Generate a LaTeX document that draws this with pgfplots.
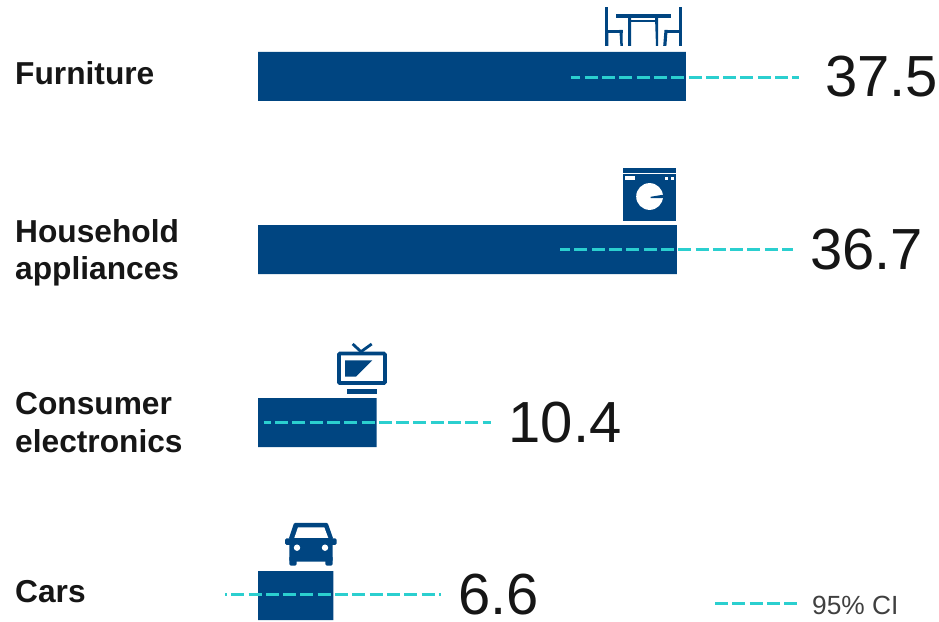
\documentclass[border=0pt]{standalone}
\usepackage{fontspec}
\setmainfont{Liberation Sans}
\usepackage{pgfplots}
\pgfplotsset{compat=1.18}
\definecolor{barblue}{HTML}{004581}
\definecolor{citeal}{HTML}{2BCFCF}
\definecolor{txt}{HTML}{161616}
\definecolor{legtxt}{HTML}{404040}
\newcommand{\lab}[3]{\node[anchor=base west,inner sep=0pt,text=txt,font=\fontsize{31.7bp}{31.7bp}\selectfont\bfseries] at (#1,#2) {#3};}
\newcommand{\val}[3]{\node[anchor=base west,inner sep=0pt,text=txt,font=\fontsize{58bp}{58bp}\selectfont] at (#1,#2) {#3};}
\begin{document}
\begin{tikzpicture}
\useasboundingbox (0,0) rectangle (939bp,622bp);
\begin{axis}[
  at={(0,0)},anchor=south west,
  scale only axis,width=939bp,height=622bp,
  hide axis,clip=false,
  xmin=-22.606,xmax=59.669,
  ymin=-0.4422,ymax=3.1532,y dir=reverse,
]
\addplot[xbar,bar width=49bp,fill=barblue,draw=none,bar shift=0pt] coordinates {(37.5,0) (36.7,1) (10.4,2) (6.6,3)};
\addplot[citeal,line width=3bp,dash pattern=on 13bp off 4.3bp,dash phase=3.3bp] coordinates {(27.4,0.005) (47.4,0.005)};
\addplot[citeal,line width=3bp,dash pattern=on 13bp off 4.3bp,dash phase=3.3bp] coordinates {(26.5,1) (46.9,1)};
\addplot[citeal,line width=3bp,dash pattern=on 13bp off 4.3bp,dash phase=6bp] coordinates {(0.5,2) (20.4,2)};
\addplot[citeal,line width=3bp,dash pattern=on 13bp off 4.3bp,dash phase=11bp] coordinates {(-2.9,2.996) (16.0,2.996)};
\end{axis}
\begin{scope}[x=1bp,y=-1bp,yshift=622bp]
\lab{15}{85}{Furniture}
\lab{15}{243}{Household}
\lab{15}{280}{appliances}
\lab{15}{415}{Consumer}
\lab{15}{453}{electronics}
\lab{15}{603}{Cars}
\val{825}{97}{37.5}
\val{810}{270}{36.7}
\val{508.5}{443}{10.4}
\val{458}{615}{6.6}
% legend
\draw[citeal,line width=3bp,dash pattern=on 13bp off 4.3bp] (715,603.5)--(798,603.5);
\node[anchor=base west,inner sep=0pt,text=legtxt,font=\fontsize{26.3bp}{26.3bp}\selectfont] at (812,615) {95\% CI};
% furniture icon
\fill[barblue] (605,7) rectangle (607.8,46);
\fill[barblue] (607,30) rectangle (622.5,33.2);
\fill[barblue] (619.4,30)--(622.5,30)--(622.8,46)--(620.4,46)--cycle;
\fill[barblue] (606,30)--(608.4,33)--(608.4,46)--(606,46)--cycle;
\fill[barblue] (616,14.5) rectangle (671,17.6);
\fill[barblue] (628,17)--(631.2,17)--(631,46)--(628,46)--cycle;
\fill[barblue] (655,17)--(658,17)--(658.2,46)--(656,46)--cycle;
\fill[barblue] (630,19.8) rectangle (656,22);
\fill[barblue] (679.2,7) rectangle (682,46);
\fill[barblue] (664.5,30) rectangle (680,33.2);
\fill[barblue] (664.5,30)--(667.6,30)--(666.4,46)--(663.2,46)--cycle;
% washer icon
\fill[barblue] (622.7,168.3) rectangle (676.3,173);
\fill[barblue] (622.7,174.3) rectangle (676.3,221.3);
\fill[white] (625,176) rectangle (635.3,180);
\fill[white] (665,177) rectangle (668.3,180);
\fill[white] (671,177) rectangle (674.3,180);
\fill[white] (649.6,196.5) circle[radius=13.4];
\fill[barblue] (650.7,196.8)--(663.2,194.7)--(663.2,198.2)--(650.7,198.2)--cycle;
% tv icon
\draw[barblue,line width=3.7bp,rounded corners=1bp] (338.9,353.6) rectangle (384.9,383.1);
\fill[barblue] (345,360.3)--(372.3,360.3)--(356,376.7)--(345,376.7)--cycle;
\fill[barblue] (347,389) rectangle (377,393.7);
\draw[barblue,line width=2.8bp] (352.7,344)--(361,351.7)--(371.7,344);
% car icon
\fill[barblue,rounded corners=1bp] (294,523)--(327.7,523)--(333.3,539)--(288.7,539)--cycle;
\fill[white] (298,527.3)--(324.3,527.3)--(328.3,538)--(294.3,538)--cycle;
\fill[barblue,rounded corners=1.5bp] (285,538.3) rectangle (336.7,545);
\fill[barblue,rounded corners=1.5bp] (289.3,538.3) rectangle (332.7,561.7);
\fill[barblue,rounded corners=1.5bp] (289.3,556) rectangle (296.7,565.7);
\fill[barblue,rounded corners=1.5bp] (325.3,556) rectangle (332.7,565.7);
\fill[white] (297,547.7) circle[radius=3.2];
\fill[white] (325,547.7) circle[radius=3.2];
\end{scope}
\end{tikzpicture}
\end{document}
